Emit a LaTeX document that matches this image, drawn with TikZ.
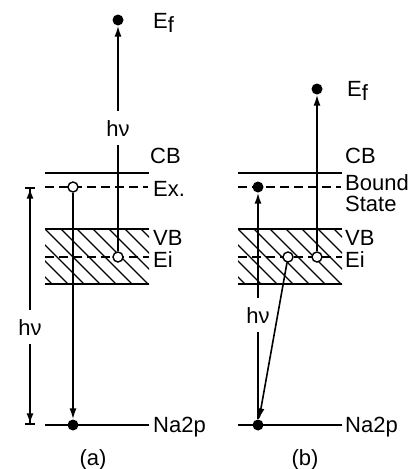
\documentclass[tikz,border=0pt]{standalone}
\usepackage{fontspec}
\setmainfont{Liberation Sans}
\usetikzlibrary{arrows.meta,positioning}

\begin{document}
\begin{tikzpicture}[
    x=1pt, y=-1pt,
    level_line/.style={line width=1.6pt},
    state_line/.style={line width=1.6pt, dash pattern=on 9pt off 5pt},
    band_hatch/.style={line width=1.4pt},
    full_dot/.style={circle, fill=black, minimum size=11pt, inner sep=0pt},
    open_dot/.style={circle, draw=black, fill=white, line width=1.4pt, minimum size=10pt, inner sep=0pt},
    transition/.style={-{Latex[length=11pt,width=7pt]}, line width=1.6pt},
    level_text/.style={font=\fontsize{22}{25}\selectfont, anchor=base west, inner sep=0pt},
    photon_text/.style={font=\fontsize{22}{25}\selectfont, fill=white, inner xsep=1pt, inner ysep=9pt},
    panel_text/.style={font=\fontsize{22}{25}\selectfont}
]
\useasboundingbox (0,0) rectangle (417,469);

% --- energy levels: (a) at x=45, (b) at x=238 ---
\foreach \bx in {45,238} {
    \begin{scope}
        \clip (\bx,229) rectangle ++(104,55);
        \foreach \h in {0,...,11}
            \draw[band_hatch] ({\bx-64+16*\h},229) -- ++(60,60);
    \end{scope}
    \draw[level_line] (\bx,173) -- ++(104,0);   % CB
    \draw[state_line] (\bx,187) -- ++(103,0);   % Ex. / bound state
    \draw[level_line] (\bx,229) -- ++(104,0);   % VB
    \draw[state_line] (\bx,257) -- ++(104,0);   % Ei
    \draw[level_line] (\bx,284) -- ++(104,0);
    \draw[level_line] (\bx,425) -- ++(104,0);   % Na2p
}

% --- (a) ---
\node[full_dot] (ef_a) at (118,20) {};
\node[open_dot] (ex_a) at (73,187) {};
\node[open_dot] (ei_a) at (118,257) {};
\node[full_dot] (na_a) at (73,425) {};

\node[level_text] (ef_a_text) at (153,28) {E\raisebox{-4pt}{f}};
\node[level_text] (cb_a_text) at (150,163) {CB};
\node[level_text] (ex_a_text) at (153,196) {Ex.};
\node[level_text] (vb_a_text) at (153,245) {VB};
\node[level_text] (ei_a_text) at (153,267) {Ei};
\node[level_text] (na_a_text) at (153,432) {Na2p};

\draw[transition] (ei_a) -- node[photon_text, pos=0.545] (hv_a) {hν} (ef_a);
\draw[transition] (ex_a) -- (na_a);

% photon energy bar
\coordinate (dim_top) at (30,187);
\coordinate (dim_bot) at (30,425);
\draw[{Bar[width=10pt]Latex[length=10pt,width=7pt]}-{Latex[length=10pt,width=7pt]Bar[width=10pt]}, line width=1.6pt]
    (dim_top) -- node[photon_text, pos=0.59] (hv_dim) {hν} (dim_bot);

\node[panel_text] (cap_a) at (93,460) {(a)};

% --- (b) ---
\node[full_dot] (ef_b) at (317,89) {};
\node[full_dot] (bs_b) at (258,187) {};
\node[open_dot] (ei_b1) at (288,257) {};
\node[open_dot] (ei_b2) at (317,257) {};
\node[full_dot] (na_b) at (258,425) {};

\node[level_text] (ef_b_text) at (347,96) {E\raisebox{-4pt}{f}};
\node[level_text] (cb_b_text) at (345,163) {CB};
\node[level_text] (bs_b_text) at (345,190) {Bound};
\node[level_text] (st_b_text) at (345,211) {State};
\node[level_text] (vb_b_text) at (345,245) {VB};
\node[level_text] (ei_b_text) at (345,267) {Ei};
\node[level_text] (na_b_text) at (345,432) {Na2p};

\draw[transition] (na_b) -- node[photon_text, pos=0.46] (hv_b) {hν} (bs_b);
\draw[transition] (ei_b1) -- (na_b);
\draw[transition] (ei_b2) -- (ef_b);

\node[panel_text] (cap_b) at (305,460) {(b)};

\end{tikzpicture}
\end{document}
